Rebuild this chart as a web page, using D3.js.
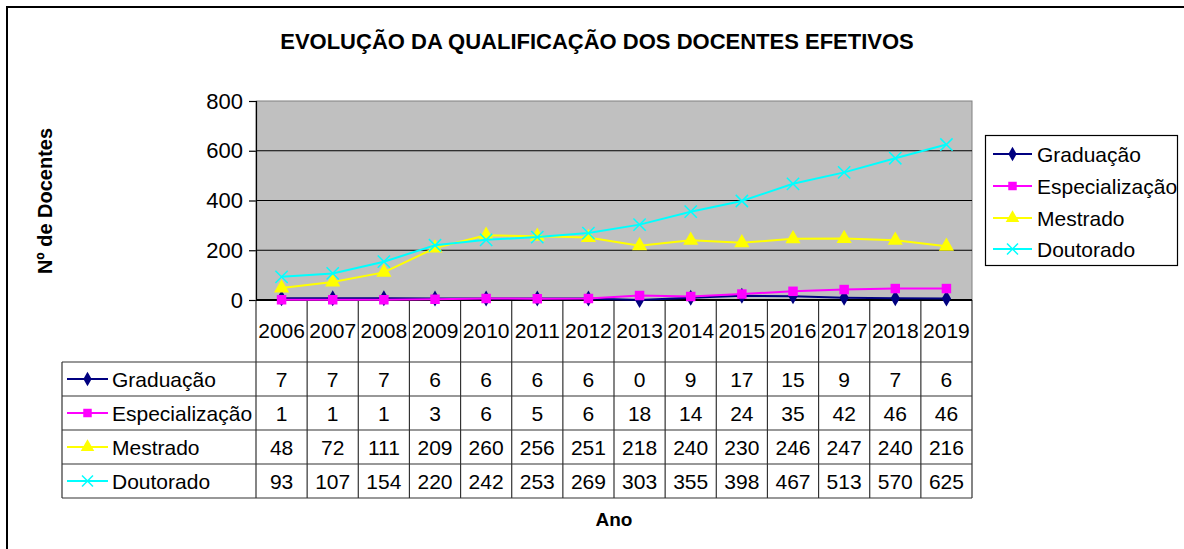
<!DOCTYPE html>
<html>
<head>
<meta charset="utf-8">
<script src="https://cdn.jsdelivr.net/npm/d3@7"></script>
<style>
  body { margin: 0; background: #fff; }
  svg { display: block; font-family: "Liberation Sans", Arial, sans-serif; }
</style>
</head>
<body>
<div class="chart"></div>
<script>
var width = 1184,
    height = 549;

// data
var years = ["2006", "2007", "2008", "2009", "2010", "2011", "2012", "2013", "2014", "2015", "2016", "2017", "2018", "2019"];
var graduacao = [7, 7, 7, 6, 6, 6, 6, 0, 9, 17, 15, 9, 7, 6];
var especializacao = [1, 1, 1, 3, 6, 5, 6, 18, 14, 24, 35, 42, 46, 46];
var mestrado = [48, 72, 111, 209, 260, 256, 251, 218, 240, 230, 246, 247, 240, 216];
var doutorado = [93, 107, 154, 220, 242, 253, 269, 303, 355, 398, 467, 513, 570, 625];
var yTicks = [0, 200, 400, 600, 800];

var series = [
    {name: "Graduação", values: graduacao, color: "#000080", symbol: d3.symbolDiamond, size: 75},
    {name: "Especialização", values: especializacao, color: "#FF00FF", symbol: d3.symbolSquare, size: 90},
    {name: "Mestrado", values: mestrado, color: "#FFFF00", symbol: d3.symbolTriangle, size: 100},
    {name: "Doutorado", values: doutorado, color: "#00FFFF", symbol: d3.symbolX, size: 100}
];

var plot = {left: 256, right: 972, top: 101, bottom: 300};
var tableTop = 362, rowH = 34, tableLeft = 62;

let svg = d3.select(".chart")
    .append("svg")
    .attr("width", width)
    .attr("height", height);

// outer frame (only top and left visible in the picture)
svg.append("rect")
    .attr("x", 7).attr("y", 7)
    .attr("width", 1200).attr("height", 600)
    .attr("fill", "#fff")
    .attr("stroke", "#000")
    .attr("stroke-width", 2);

let x = d3.scaleBand()
    .domain(years)
    .range([plot.left, plot.right]);

let y = d3.scaleLinear()
    .domain([0, 800])
    .range([plot.bottom, plot.top]);

// plot background
svg.append("rect")
    .attr("x", plot.left).attr("y", plot.top)
    .attr("width", plot.right - plot.left)
    .attr("height", plot.bottom - plot.top)
    .attr("fill", "#C0C0C0")
    .attr("stroke", "#808080")
    .attr("stroke-width", 1);

// gridlines
svg.append("g")
    .selectAll("line")
    .data(yTicks.filter(d => d > 0 && d < 800))
    .join("line")
    .attr("x1", plot.left).attr("x2", plot.right)
    .attr("y1", d => y(d)).attr("y2", d => y(d))
    .attr("stroke", "#000")
    .attr("stroke-width", 1.2);

// y axis
let yAxis = svg.append("g")
    .attr("transform", `translate(${plot.left},0)`)
    .call(d3.axisLeft(y).tickValues(yTicks).tickSize(7).tickPadding(6));
yAxis.select(".domain").attr("stroke", "#000").attr("stroke-width", 1.2);
yAxis.selectAll(".tick line").attr("stroke", "#000").attr("stroke-width", 1.2);
yAxis.selectAll("text")
    .style("font-size", "22px")
    .style("font-family", "'Liberation Sans', Arial, sans-serif")
    .attr("fill", "#000");

// table grid
let grid = svg.append("g").attr("stroke", "#333").attr("stroke-width", 1.2);

// vertical lines of the year columns
grid.selectAll(".vcol")
    .data(years.concat(["end"]))
    .join("line")
    .attr("x1", (d, i) => i < years.length ? x(d) : plot.right)
    .attr("x2", (d, i) => i < years.length ? x(d) : plot.right)
    .attr("y1", plot.bottom)
    .attr("y2", tableTop + rowH * series.length);

// left border of the name column
grid.append("line")
    .attr("x1", tableLeft).attr("x2", tableLeft)
    .attr("y1", tableTop).attr("y2", tableTop + rowH * series.length);

// horizontal lines
grid.selectAll(".hrow")
    .data(d3.range(series.length + 1))
    .join("line")
    .attr("x1", tableLeft).attr("x2", plot.right)
    .attr("y1", d => tableTop + d * rowH)
    .attr("y2", d => tableTop + d * rowH);

// x axis line over the table top
svg.append("line")
    .attr("x1", plot.left).attr("x2", plot.right)
    .attr("y1", plot.bottom).attr("y2", plot.bottom)
    .attr("stroke", "#000").attr("stroke-width", 2);

// year labels
svg.append("g")
    .selectAll("text")
    .data(years)
    .join("text")
    .attr("x", d => x(d) + x.bandwidth() / 2)
    .attr("y", 338)
    .attr("text-anchor", "middle")
    .style("font-size", "21px")
    .text(d => d);

// lines and markers, drawn series by series like the original
let line = d3.line()
    .x((d, i) => x(years[i]) + x.bandwidth() / 2)
    .y(d => y(d));

series.forEach(function(s) {
    svg.append("path")
        .attr("d", line(s.values))
        .attr("fill", "none")
        .attr("stroke", s.color)
        .attr("stroke-width", 2);

    svg.append("g")
        .selectAll("path")
        .data(s.values)
        .join("path")
        .attr("transform", (d, i) => `translate(${x(years[i]) + x.bandwidth() / 2},${y(d)})`)
        .attr("d", d3.symbol().type(s.symbol).size(s.size))
        .attr("fill", s.color)
        .attr("stroke", s.color)
        .attr("stroke-width", s.symbol === d3.symbolX ? 1.5 : 0);
});

// table rows
series.forEach(function(s, r) {
    let cy = tableTop + r * rowH + rowH / 2;
    let row = svg.append("g");
    row.append("line")
        .attr("x1", 67).attr("x2", 108)
        .attr("y1", cy).attr("y2", cy)
        .attr("stroke", s.color).attr("stroke-width", 2);
    row.append("path")
        .attr("transform", `translate(87.5,${cy})`)
        .attr("d", d3.symbol().type(s.symbol).size(s.size * 0.8))
        .attr("fill", s.color)
        .attr("stroke", s.color)
        .attr("stroke-width", s.symbol === d3.symbolX ? 1.5 : 0);
    row.append("text")
        .attr("x", 112).attr("y", cy + 7.5)
        .style("font-size", "21px")
        .text(s.name);
    row.selectAll(".val")
        .data(s.values)
        .join("text")
        .attr("x", (d, i) => x(years[i]) + x.bandwidth() / 2)
        .attr("y", cy + 7.5)
        .attr("text-anchor", "middle")
        .style("font-size", "21px")
        .text(d => d);
});

// legend
let legend = svg.append("g");
legend.append("rect")
    .attr("x", 985.5).attr("y", 135.5)
    .attr("width", 192).attr("height", 130)
    .attr("fill", "#fff")
    .attr("stroke", "#000")
    .attr("stroke-width", 1.2);

let legendY = [154, 186, 218, 249];
series.forEach(function(s, i) {
    let cy = legendY[i];
    legend.append("line")
        .attr("x1", 993).attr("x2", 1032)
        .attr("y1", cy).attr("y2", cy)
        .attr("stroke", s.color).attr("stroke-width", 2);
    legend.append("path")
        .attr("transform", `translate(1012.5,${cy})`)
        .attr("d", d3.symbol().type(s.symbol).size(s.size * 0.8))
        .attr("fill", s.color)
        .attr("stroke", s.color)
        .attr("stroke-width", s.symbol === d3.symbolX ? 1.5 : 0);
    legend.append("text")
        .attr("x", 1037).attr("y", cy + 7.5)
        .style("font-size", "21px")
        .text(s.name);
});

// titles
svg.append("text")
    .attr("x", 597).attr("y", 49)
    .attr("text-anchor", "middle")
    .style("font-size", "22px")
    .style("font-weight", "bold")
    .text("EVOLUÇÃO DA QUALIFICAÇÃO DOS DOCENTES EFETIVOS");

svg.append("text")
    .attr("transform", "translate(52,201) rotate(-90)")
    .attr("text-anchor", "middle")
    .style("font-size", "20px")
    .style("font-weight", "bold")
    .text("Nº de Docentes");

svg.append("text")
    .attr("x", 614).attr("y", 526)
    .attr("text-anchor", "middle")
    .style("font-size", "19px")
    .style("font-weight", "bold")
    .text("Ano");
</script>
</body>
</html>
